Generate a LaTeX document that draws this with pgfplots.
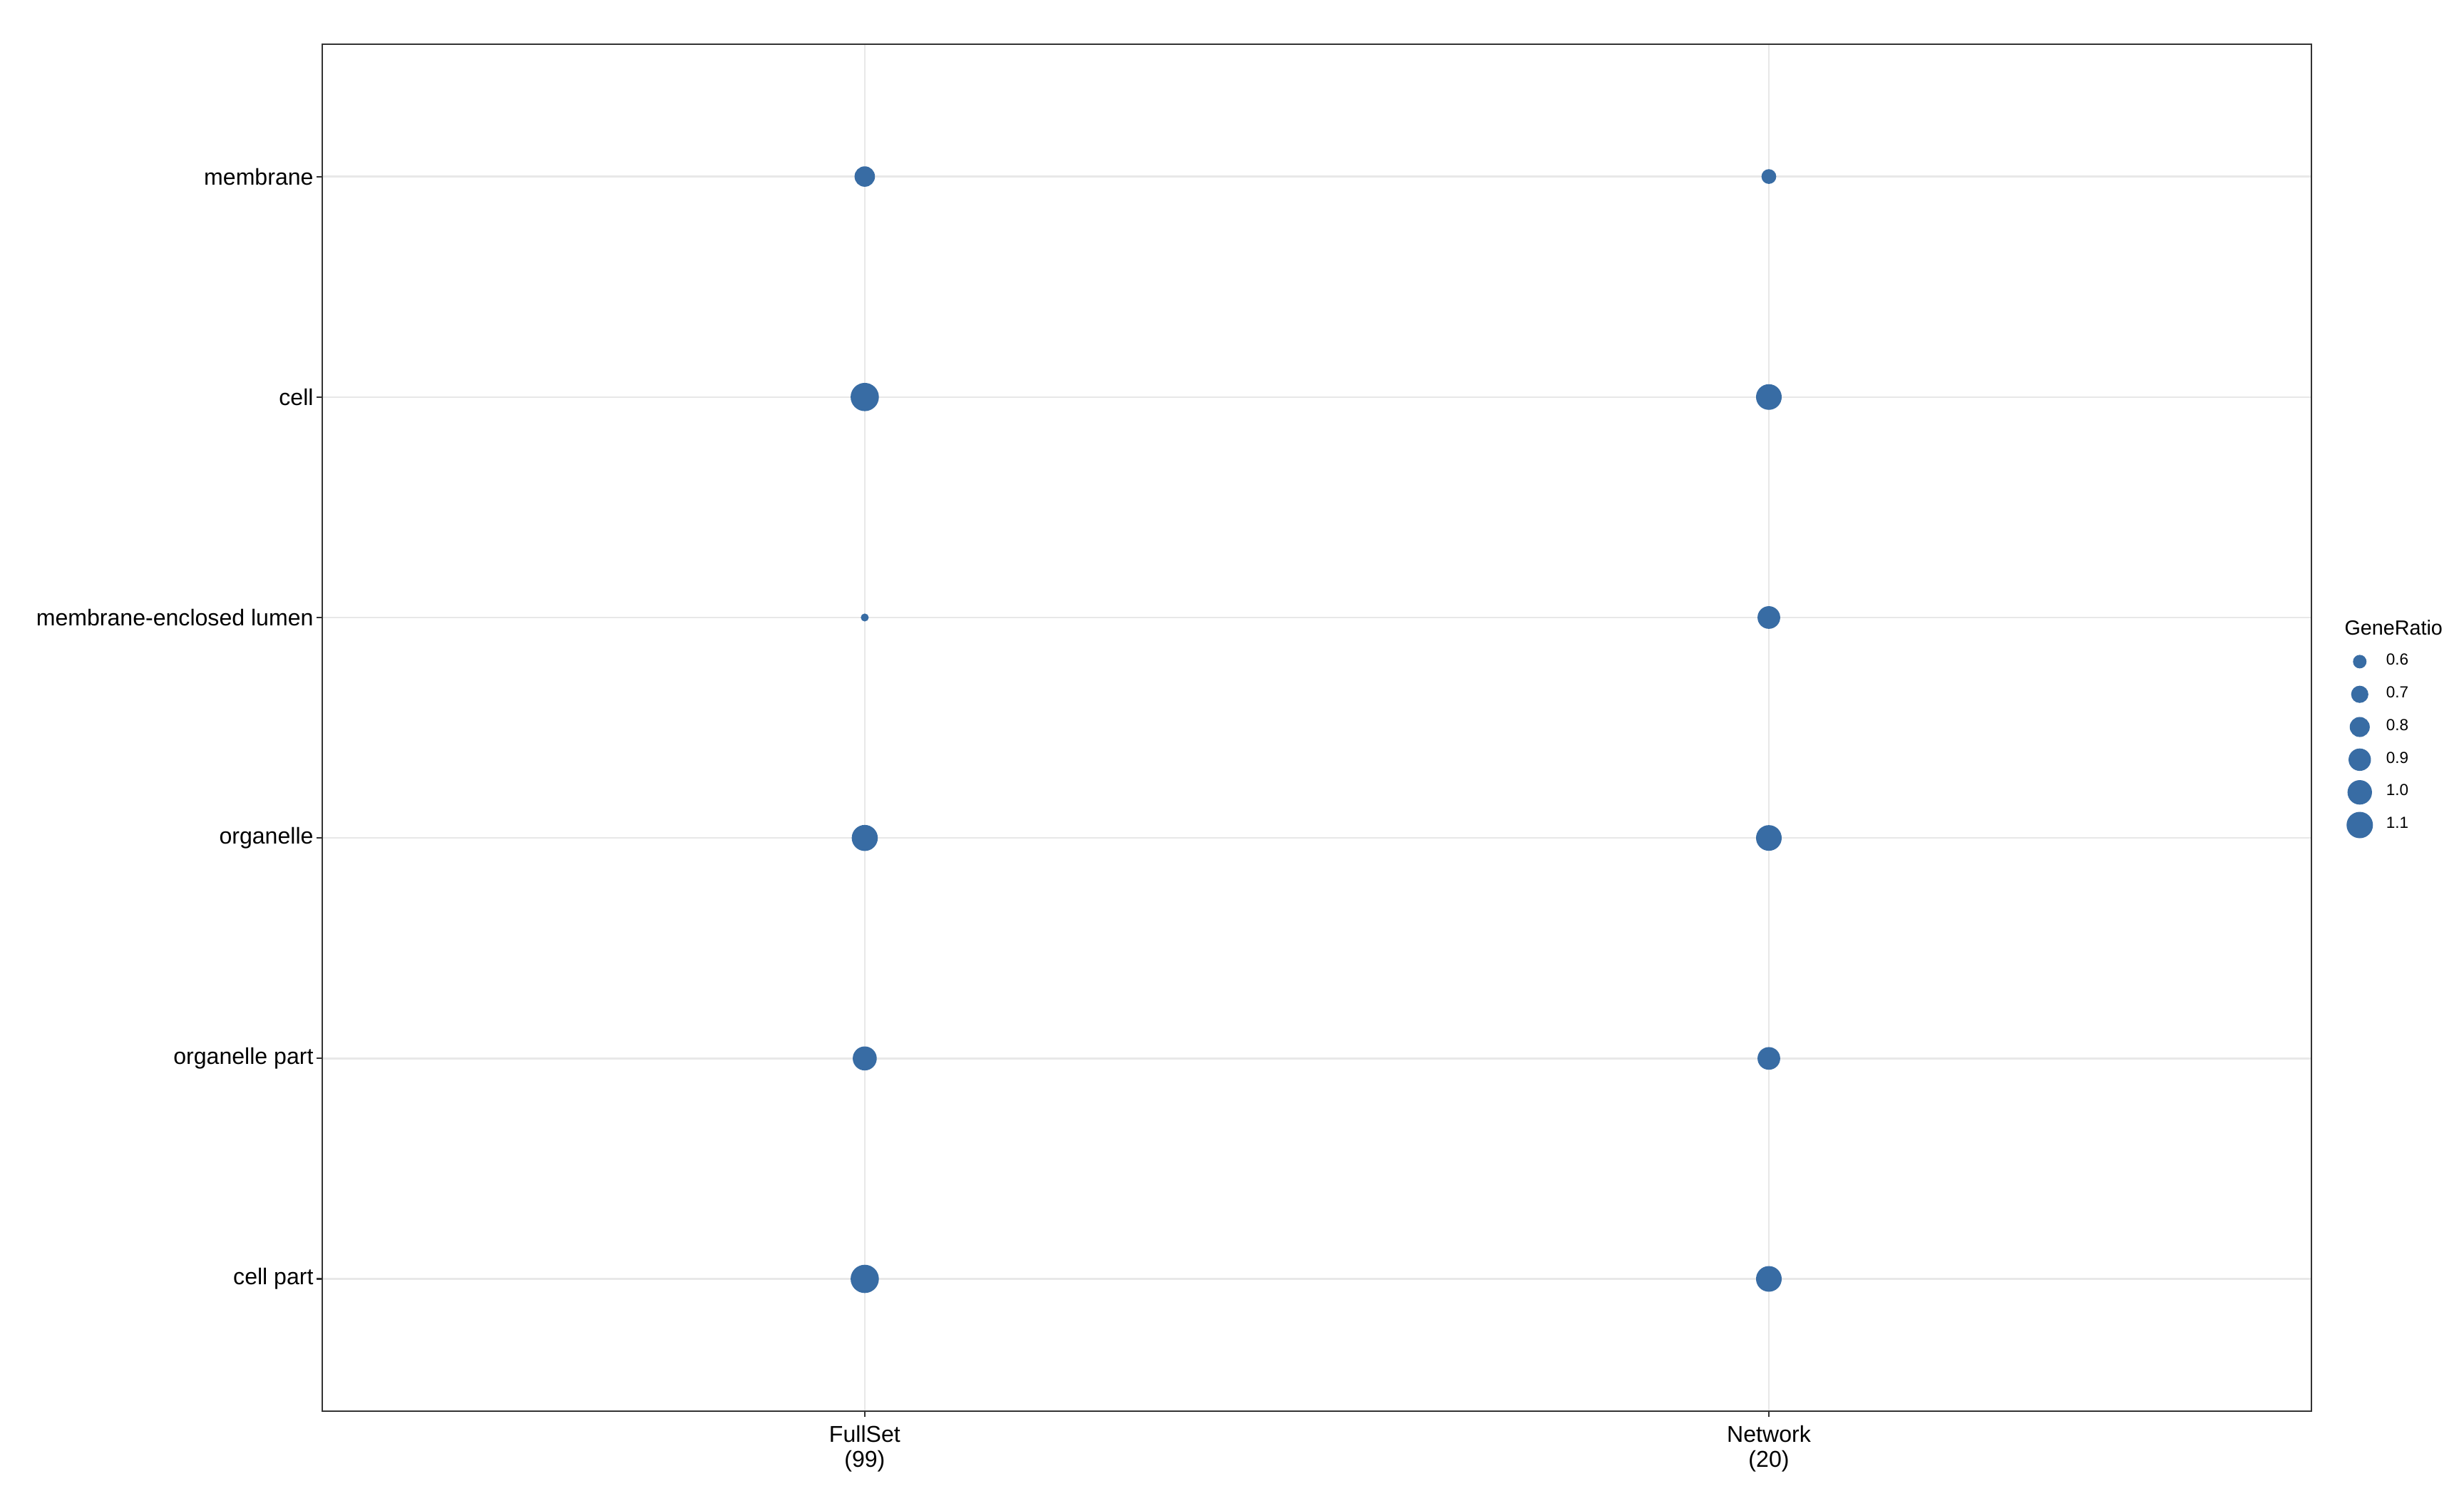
\documentclass[border=0pt]{standalone}
\usepackage{pgfplots}
\pgfplotsset{compat=1.18}
\usepackage{fontspec}
\setmainfont{Liberation Sans}
\definecolor{dotblue}{RGB}{56,108,164}
\definecolor{gridgray}{RGB}{232,232,232}
\definecolor{framegray}{RGB}{51,51,51}

\pgfplotstableread{
x y ratio
1 6 0.77
1 5 1.14
1 4 0.505
1 3 1.02
1 2 0.92
1 1 1.14
2 6 0.60
2 5 1.00
2 4 0.86
2 3 1.00
2 2 0.86
2 1 1.00
}\dots

\newcommand{\legdot}[1]{\addlegendimage{legend image code/.code={\path[draw=none,fill=none] (-4.5pt,-5.5pt) rectangle (4.5pt,5.5pt); \fill[dotblue,draw=none] (0pt,0pt) circle (#1);}}}

\begin{document}
\begin{tikzpicture}
\useasboundingbox (-108.5pt,-31.9pt) rectangle (721pt,475pt);
\begin{axis}[
  at={(0,0)}, anchor=south west,
  width=669.6pt, height=460.1pt, scale only axis,
  clip=false,
  xmin=0.4, xmax=2.6, ymin=0.4, ymax=6.6,
  xtick={1,2}, xticklabels={{FullSet\\(99)},{Network\\(20)}},
  ytick={1,2,3,4,5,6},
  yticklabels={cell part, organelle part, organelle, membrane-enclosed lumen, cell, membrane},
  xticklabel style={align=center, font=\fontsize{7.7}{8.5}\selectfont, inner sep=0pt, yshift=-2.6pt},
  yticklabel style={font=\fontsize{7.7}{8.5}\selectfont, inner sep=0pt, xshift=-0.8pt},
  tick align=outside, tick pos=left,
  major tick length=2pt,
  tick style={framegray, line width=0.5pt},
  grid=major, major grid style={gridgray, line width=0.6pt},
  axis line style={framegray, line width=0.55pt},
  legend style={at={(axis description cs:1,0.5603)}, anchor=north west, xshift=11.8pt,
    draw=none, fill=none, inner sep=0pt, outer sep=0pt, row sep=0pt, column sep=4.4pt,
    font=\fontsize{5.4}{6}\selectfont, nodes={inner sep=0pt}},
  legend cell align=left,
]
\addplot[scatter, only marks, mark=*, forget plot,
  scatter/use mapped color={draw=dotblue, fill=dotblue},
  visualization depends on={0.792+4.704*sqrt(\thisrow{ratio}-0.5) \as \rad},
  scatter/@pre marker code/.append style={/tikz/mark size=\rad}]
  table[x=x, y=y] {\dots};
\legdot{2.28pt}\addlegendentry{0.6}
\legdot{2.90pt}\addlegendentry{0.7}
\legdot{3.37pt}\addlegendentry{0.8}
\legdot{3.77pt}\addlegendentry{0.9}
\legdot{4.12pt}\addlegendentry{1.0}
\legdot{4.44pt}\addlegendentry{1.1}
\node[anchor=west, inner sep=0pt, font=\fontsize{6.9}{8}\selectfont, xshift=11pt] at (axis description cs:1,0.5734) {GeneRatio};
\end{axis}
\end{tikzpicture}
\end{document}
